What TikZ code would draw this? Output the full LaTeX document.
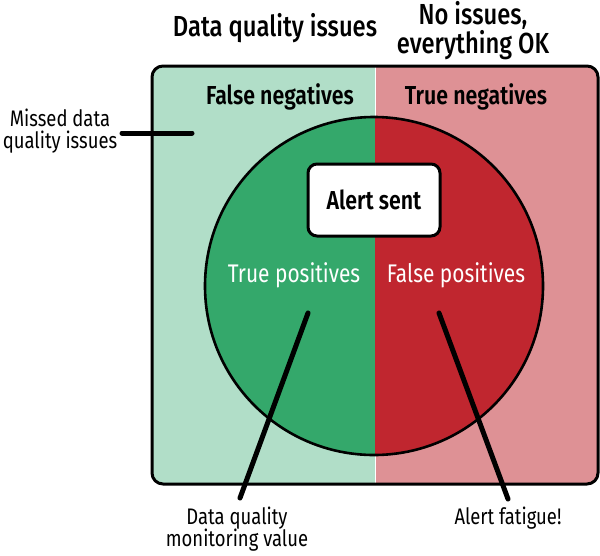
\documentclass[tikz,border=0pt]{standalone}
\usepackage{fontspec}
\setmainfont{Fira Sans}[FakeStretch=0.82, UprightFont=* Medium, BoldFont=* SemiBold]
\newfontfamily\plainfont{Fira Sans}[FakeStretch=0.82]
\begin{document}
\begin{tikzpicture}[x=1pt,y=-1pt,
  every node/.style={inner sep=0pt, align=center},
  head/.style={font=\fontsize{29}{26}\selectfont},
  zone/.style={font=\bfseries\fontsize{26}{28}\selectfont},
  inlabel/.style={font=\plainfont\fontsize{25.5}{28}\selectfont, text=white},
  note/.style={font=\plainfont\fontsize{22.5}{22.5}\selectfont},
  leader/.style={line width=5pt, line cap=round},
  alertbox/.style={draw, line width=3pt, rounded corners=9pt, fill=white,
    minimum width=132pt, minimum height=72pt, font=\bfseries\fontsize{26}{28}\selectfont}
]
\definecolor{lightgreen}{RGB}{177,222,200}
\definecolor{darkgreen}{RGB}{52,168,107}
\definecolor{darkred}{RGB}{192,38,47}
\definecolor{lightred}{RGB}{222,145,149}
\useasboundingbox (0,0) rectangle (600,555);

% background halves of the outer panel
\begin{scope}
  \clip[rounded corners=11pt] (152,66) rectangle (598,484);
  \fill[lightgreen] (152,66) rectangle (375,484);
  \fill[lightred] (375,66) rectangle (598,484);
  \draw[white, line width=0.8pt] (375,66) -- (375,484);
  % circle of alerts, split in two
  \begin{scope}
    \clip (374,286) circle[radius=169];
    \fill[darkgreen] (150,100) rectangle (375,470);
    \fill[darkred] (375,100) rectangle (600,470);
  \end{scope}
\end{scope}
\draw[line width=2.6pt] (374,286) circle[radius=169];
\draw[line width=3pt, rounded corners=11pt] (152,66) rectangle (598,484);

% column headings
\node[head] (dqi) at (275,28) {Data quality issues};
\node[head] (noissues) at (473,31) {No issues,\\everything OK};

% zone labels
\node[zone] (fn) at (280,97) {False negatives};
\node[zone] (tn) at (476,97) {True negatives};
\node[alertbox] (alert) at (374,200) {Alert sent};
\node[inlabel] (tp) at (294,275) {True positives};
\node[inlabel] (fp) at (456,275) {False positives};

% outside annotations
\node[note] (missed) at (60,131) {Missed data\\quality issues};
\node[note] (value) at (237,529) {Data quality\\monitoring value};
\node[note] (fatigue) at (508,518) {Alert fatigue!};

% leader lines
\coordinate (missedA) at (122,133);
\coordinate (missedB) at (192,133);
\coordinate (tpA) at (308,313);
\coordinate (tpB) at (240,498);
\coordinate (fpA) at (439,313);
\coordinate (fpB) at (508,499);
\draw[leader] (missedA) -- (missedB);
\draw[leader] (tpA) -- (tpB);
\draw[leader] (fpA) -- (fpB);
\end{tikzpicture}
\end{document}
